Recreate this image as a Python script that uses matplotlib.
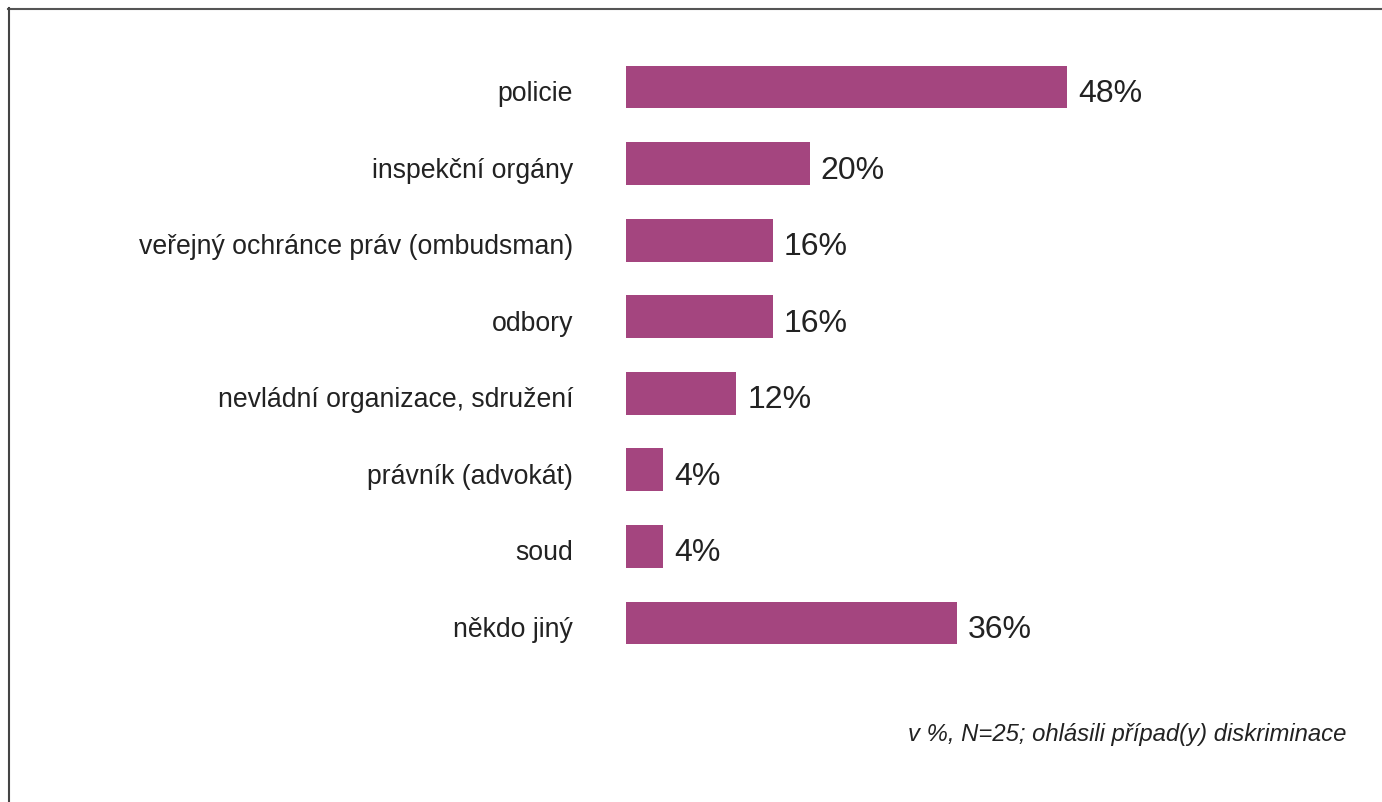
import matplotlib.pyplot as plt
import numpy as np
from matplotlib.lines import Line2D

categories = ['policie', 'inspekční orgány', 'veřejný ochránce práv (ombudsman)', 'odbory',
              'nevládní organizace, sdružení', 'právník (advokát)', 'soud', 'někdo jiný']
values = [48, 20, 16, 16, 12, 4, 4, 36]
note = 'v %, N=25; ohlásili případ(y) diskriminace'

bar_color = '#A4457F'
W, H = 1382, 802

plt.rcParams['font.family'] = ['Liberation Sans', 'DejaVu Sans']
fig = plt.figure(figsize=(W / 100, H / 100), dpi=100)

# axes placed in pixel coords: x from 626, rows from ~49 to ~661
px_per_unit = 9.19
x0, xmax = 626, 60
top, bottom = 48.7, 661.3
ax = fig.add_axes([x0 / W, 1 - bottom / H, xmax * px_per_unit / W, (bottom - top) / H])

index = np.arange(len(categories))
ax.barh(index, values, height=0.56, color=bar_color)
ax.set_xlim(0, xmax)
ax.set_ylim(len(categories) - 0.5, -0.5)

for i, v in enumerate(values):
    ax.annotate(f'{v}%', (v, i), xytext=(11, -7), textcoords='offset pixels',
                va='center', ha='left', fontsize=23, color='#222222')
    ax.annotate(categories[i], (0, i), xytext=(-53, -7), textcoords='offset pixels',
                va='center', ha='right', fontsize=19.2, color='#222222')

ax.set_yticks([])
ax.set_xticks([])
for s in ax.spines.values():
    s.set_visible(False)

fig.text(1346 / W, 1 - 735 / H, note, ha='right', va='center', fontsize=17.2,
         style='italic', color='#222222')

# frame lines on top and left only
fig.add_artist(Line2D([8 / W, 1], [1 - 8.5 / H, 1 - 8.5 / H], color='#555555', lw=1.5))
fig.add_artist(Line2D([8.5 / W, 8.5 / W], [0, 1 - 8 / H], color='#444444', lw=1.5))

fig.savefig('out.png', dpi=100)
